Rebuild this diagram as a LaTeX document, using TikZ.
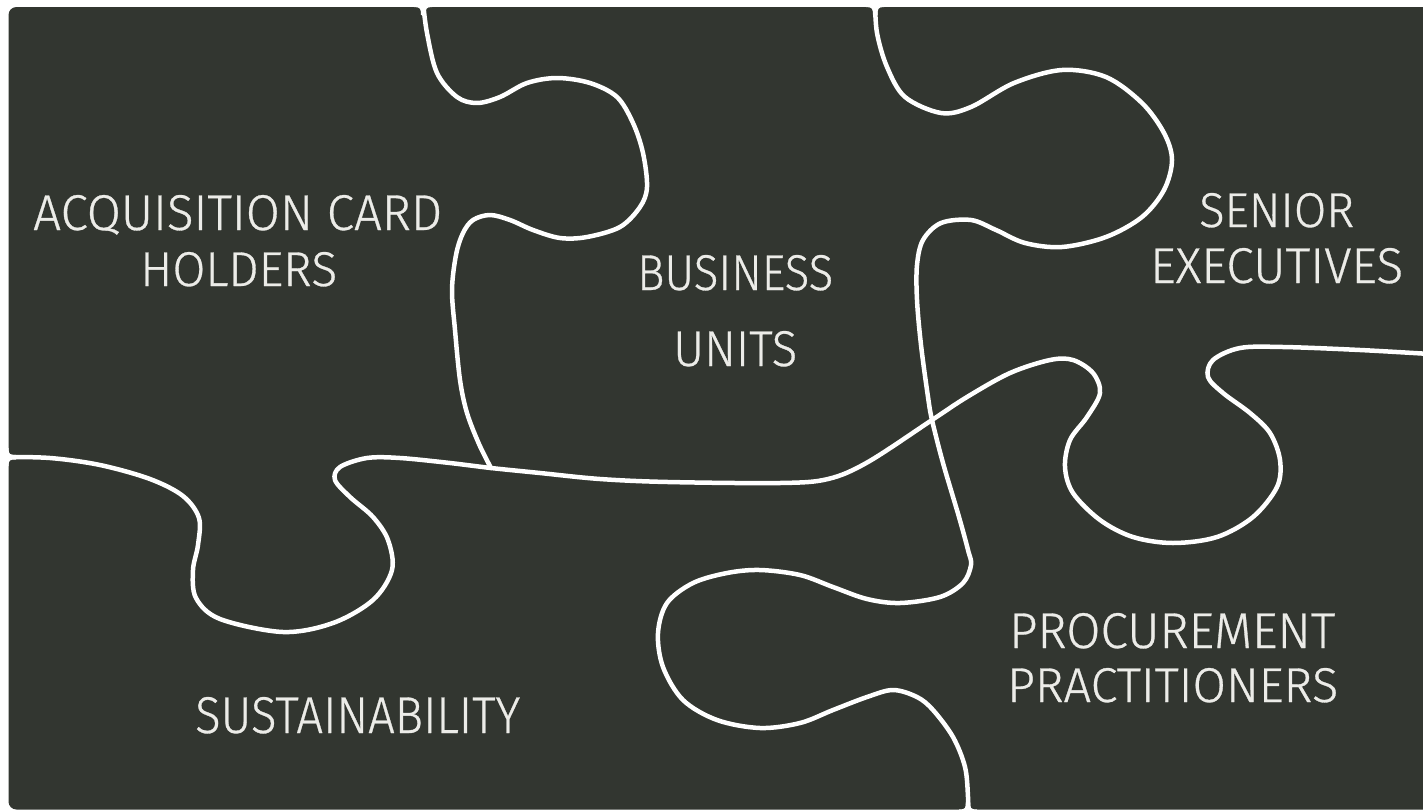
\documentclass[tikz,border=0pt]{standalone}
\usepackage{fontspec}
\setmainfont{Fira Sans Light}
\newfontfamily\lblfont{Fira Sans Light}[FakeBold=0.6]
\usepackage{graphicx}
\definecolor{piece}{RGB}{50,54,48}
\definecolor{lbltext}{RGB}{236,236,232}
\begin{document}
\begin{tikzpicture}[x=1pt,y=-1pt,
  cut/.style={draw=white, line width=4.5pt, line cap=round, line join=round},
  lbl/.style={anchor=base west, inner sep=0pt, text=lbltext, font=\lblfont\fontsize{50}{60}\selectfont}]
\useasboundingbox (0,0) rectangle (1423,811);
\fill[white] (0,0) rectangle (1423,811);
\fill[piece, rounded corners=8pt] (8.5,7) rectangle (1445,809.5);

% cut A: between acquisition card holders and business units
\draw[cut] plot[smooth, tension=0.55] coordinates {
 (423,2) (427,33) (437,73) (457,97) (477,103) (500,97) (527,83) (557,78) (590,83)
 (617,97) (633,123) (643,153) (647,187) (640,207) (620,227) (587,237) (560,238)
 (533,230) (510,220) (490,215) (473,220) (463,233) (456,255) (452,290) (455,330)
 (460,380) (467,413) (479,444) (491,468)};

% cut H: horizontal, left edge to right edge
\draw[cut] plot[smooth, tension=0.55] coordinates {
 (2,457) (50,458) (100,465) (150,479) (183,496) (199,518) (198,545)
 (193,570) (196,598) (220,619) (283,632) (333,623) (373,600) (392,570) (388,540)
 (373,517) (350,497) (335,480) (340,467) (367,458) (400,458) (450,463) (491,468)
 (540,473) (600,479) (668,482) (780,483) (828,479) (868,462) (932,420) (967,397)
 (1010,373) (1050,360) (1073,360) (1093,373) (1100,393) (1087,417) (1070,440)
 (1065,467) (1073,493) (1100,520) (1133,537) (1173,543) (1217,537) (1253,517)
 (1277,487) (1280,460) (1270,433) (1250,413) (1223,393) (1208,377) (1213,360)
 (1240,348) (1283,347) (1360,350) (1430,354)};

% cut B: top edge to bottom edge
\draw[cut] plot[smooth, tension=0.55] coordinates {
 (875,2) (877,33) (887,67) (905,97) (941,113) (971,107) (1014,83) (1062,70)
 (1106,77) (1142,103) (1164,133) (1172,160) (1164,190) (1142,217) (1106,237)
 (1062,247) (1025,243) (996,230) (971,220) (941,223) (923,240) (917,265)
 (917,300) (921,345) (928,397) (932,420) (943,463) (959,517) (968,550)
 (971,565) (963,583) (940,597) (900,603) (867,599) (833,587) (800,575)
 (760,570) (727,573) (693,583) (667,603) (658,633) (663,667) (683,700)
 (717,720) (760,728) (800,723) (833,710) (867,697) (893,690) (917,697)
 (933,710) (953,737) (965,767) (968,797) (968,815)};

% rounded notches where cuts meet the outer edge
\fill[white] (414,-1) -- (414,7) .. controls (420.5,7) and (421,9) .. (421,15)
  -- (425.5,15) .. controls (425.5,9) and (426,7) .. (432,7) -- (432,-1) -- cycle;
\fill[white] (866,-1) -- (866,7) .. controls (872.5,7) and (873,9) .. (873,15)
  -- (877.5,15) .. controls (877.5,9) and (878,7) .. (884,7) -- (884,-1) -- cycle;
\fill[white] (-1,448) -- (8.5,448) .. controls (8.5,454.5) and (10,455) .. (16,455)
  -- (16,459.5) .. controls (10,459.5) and (8.5,460) .. (8.5,466) -- (-1,466) -- cycle;
\fill[white] (959,812) -- (959,809.5) .. controls (965.5,809.5) and (965.8,808) .. (965.8,802)
  -- (970.2,802) .. controls (970.2,808) and (970.5,809.5) .. (977,809.5) -- (977,812) -- cycle;

% labels
\node[lbl] (acq1) at (33,230) {\resizebox{409pt}{35pt}{ACQUISITION CARD}};
\node[lbl] (acq2) at (140,286) {\resizebox{197pt}{34pt}{HOLDERS}};
\node[lbl] (bus1) at (637,290) {\resizebox{196pt}{35pt}{BUSINESS}};
\node[lbl] (bus2) at (673,366) {\resizebox{124pt}{35pt}{UNITS}};
\node[lbl] (sen1) at (1199,227) {\resizebox{155pt}{34pt}{SENIOR}};
\node[lbl] (sen2) at (1150,283) {\resizebox{253pt}{35pt}{EXECUTIVES}};
\node[lbl] (pro1) at (1009,648) {\resizebox{326pt}{35pt}{PROCUREMENT}};
\node[lbl] (pro2) at (1007,702) {\resizebox{331pt}{34pt}{PRACTITIONERS}};
\node[lbl] (sus) at (195,733) {\resizebox{325pt}{36pt}{SUSTAINABILITY}};
\end{tikzpicture}
\end{document}
